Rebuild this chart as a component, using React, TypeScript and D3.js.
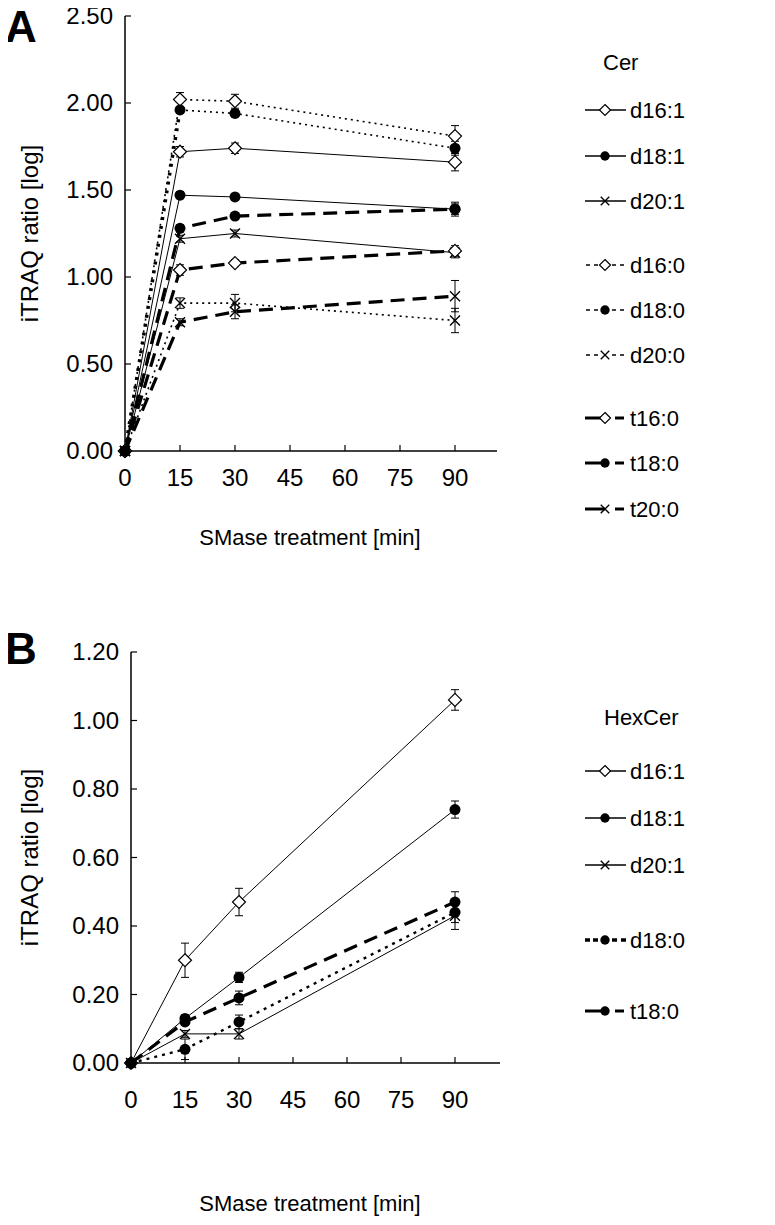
import React from "react";
import * as d3 from "d3";

// ---------- data ----------
const times = [0, 15, 30, 90];
const xTicks = [0, 15, 30, 45, 60, 75, 90];
const cerYTicks = [0, 0.5, 1.0, 1.5, 2.0, 2.5];
const hexYTicks = [0, 0.2, 0.4, 0.6, 0.8, 1.0, 1.2];

const cerNames = ["d16:1", "d18:1", "d20:1", "d16:0", "d18:0", "d20:0", "t16:0", "t18:0", "t20:0"];
const cerValues = [
  [0, 1.72, 1.74, 1.66],
  [0, 1.47, 1.46, 1.39],
  [0, 1.22, 1.25, 1.14],
  [0, 2.02, 2.01, 1.81],
  [0, 1.96, 1.94, 1.74],
  [0, 0.85, 0.85, 0.75],
  [0, 1.04, 1.08, 1.15],
  [0, 1.28, 1.35, 1.39],
  [0, 0.74, 0.80, 0.89],
];
const cerErrors = [
  [0, 0.03, 0.03, 0.05],
  [0, 0.02, 0.02, 0.03],
  [0, 0.02, 0.02, 0.03],
  [0, 0.04, 0.04, 0.06],
  [0, 0.02, 0.02, 0.04],
  [0, 0.03, 0.05, 0.07],
  [0, 0.03, 0.02, 0.03],
  [0, 0.02, 0.02, 0.04],
  [0, 0.02, 0.04, 0.09],
];

const hexNames = ["d16:1", "d18:1", "d20:1", "d18:0", "t18:0"];
const hexValues = [
  [0, 0.30, 0.47, 1.06],
  [0, 0.13, 0.25, 0.74],
  [0, 0.085, 0.085, 0.43],
  [0, 0.04, 0.12, 0.44],
  [0, 0.12, 0.19, 0.47],
];
const hexErrors = [
  [0, 0.05, 0.04, 0.03],
  [0, 0.01, 0.015, 0.025],
  [0, 0.01, 0.015, 0.04],
  [0, 0.03, 0.02, 0.03],
  [0, 0.01, 0.02, 0.03],
];

// ---------- styles ----------
type Kind = "solid" | "dotted" | "dashed" | "bolddot";
type Style = { marker: "diamond" | "circle" | "cross"; kind: Kind; width: number; dash: string; lead?: number };
const solid = (m: Style["marker"]): Style => ({ marker: m, kind: "solid", width: 1, dash: "" });
const dotted = (m: Style["marker"], lead?: number): Style => ({ marker: m, kind: "dotted", width: 1.6, dash: "2,4", lead });
const dashed = (m: Style["marker"]): Style => ({ marker: m, kind: "dashed", width: 3.2, dash: "14,8" });

const cerStyles: Style[] = [
  solid("diamond"), solid("circle"), solid("cross"),
  dotted("diamond"), dotted("circle", 3.5), dotted("cross"),
  dashed("diamond"), dashed("circle"), dashed("cross"),
];
const hexStyles: Style[] = [
  solid("diamond"), solid("circle"), solid("cross"),
  { marker: "circle", kind: "bolddot", width: 2.4, dash: "3,5" },
  dashed("circle"),
];

const FONT = "'Liberation Sans', Arial, sans-serif";

function Marker({ type, x, y, s = 1 }: { type: string; x: number; y: number; s?: number }) {
  if (type === "diamond") {
    const r = 6.5 * s;
    return <path d={`M${x},${y - r}L${x + r},${y}L${x},${y + r}L${x - r},${y}Z`} fill="#fff" stroke="#000" strokeWidth={1.2} />;
  }
  if (type === "circle") {
    return <circle cx={x} cy={y} r={5.5 * s} fill="#000" />;
  }
  const r = 5 * s;
  return (
    <path d={`M${x - r},${y - r}L${x + r},${y + r}M${x - r},${y + r}L${x + r},${y - r}`} stroke="#000" strokeWidth={1.4} fill="none" />
  );
}

function LegendLine({ kind, y }: { kind: Kind; y: number }) {
  const c = 605;
  if (kind === "solid") {
    return <line x1={585} x2={626} y1={y} y2={y} stroke="#000" strokeWidth={1.6} />;
  }
  if (kind === "dotted") {
    return (
      <g stroke="#000" strokeWidth={1.5}>
        <line x1={586} x2={590} y1={y} y2={y} />
        <line x1={594} x2={598} y1={y} y2={y} />
        <line x1={612} x2={616} y1={y} y2={y} />
        <line x1={620} x2={624} y1={y} y2={y} />
      </g>
    );
  }
  if (kind === "bolddot") {
    return (
      <g stroke="#000" strokeWidth={3.5}>
        <line x1={585} x2={590} y1={y} y2={y} />
        <line x1={593} x2={598} y1={y} y2={y} />
        <line x1={612} x2={617} y1={y} y2={y} />
        <line x1={621} x2={626} y1={y} y2={y} />
      </g>
    );
  }
  return (
    <g stroke="#000" strokeWidth={3}>
      <line x1={585} x2={c} y1={y} y2={y} />
      <line x1={615} x2={624} y1={y} y2={y} />
    </g>
  );
}

type PanelProps = {
  letter: string;
  left: number;
  yTop: number;
  yBottom: number;
  xRight: number;
  yMax: number;
  yTicks: number[];
  names: string[];
  values: number[][];
  errors: number[][];
  styles: Style[];
  title: string;
  legendTitleY: number;
  legendYs: number[];
  legendTitleX: number;
  xTickLabelY: number;
  xTitleY: number;
  letterY: number;
};

function Panel(p: PanelProps) {
  const x = d3.scaleLinear().domain([0, 90]).range([p.left, 455]);
  const y = d3.scaleLinear().domain([0, p.yMax]).range([p.yBottom, p.yTop]);
  const line = d3.line<number>().x((_, i) => x(times[i])).y((v) => y(v));
  const tk = 6;
  return (
    <g>
      <text x={5} y={p.letterY} fontFamily={FONT} fontWeight="bold" fontSize={44}>{p.letter}</text>
      {/* axes */}
      <line x1={p.left} x2={p.left} y1={p.yTop} y2={p.yBottom} stroke="#000" strokeWidth={1.5} />
      <line x1={p.left} x2={p.xRight} y1={p.yBottom} y2={p.yBottom} stroke="#000" strokeWidth={1.5} />
      {p.yTicks.map((t) => (
        <g key={"y" + t}>
          <line x1={p.left} x2={p.left + tk} y1={y(t)} y2={y(t)} stroke="#000" strokeWidth={1.2} />
          <text x={p.left - 12} y={y(t)} dy="0.35em" textAnchor="end" fontFamily={FONT} fontSize={24}>{t.toFixed(2)}</text>
        </g>
      ))}
      {xTicks.map((t) => (
        <g key={"x" + t}>
          {t > 0 && <line x1={x(t)} x2={x(t)} y1={p.yBottom} y2={p.yBottom - tk} stroke="#000" strokeWidth={1.2} />}
          <text x={x(t)} y={p.xTickLabelY} dy="0.35em" textAnchor="middle" fontFamily={FONT} fontSize={24}>{t}</text>
        </g>
      ))}
      <text x={310} y={p.xTitleY} dy="0.35em" textAnchor="middle" fontFamily={FONT} fontSize={22}>SMase treatment [min]</text>
      <text transform={`translate(30,${(p.yTop + p.yBottom) / 2}) rotate(-90)`} dy="0.35em" textAnchor="middle" fontFamily={FONT} fontSize={24}>iTRAQ ratio [log]</text>

      {/* lines */}
      {p.values.map((vals, i) => {
        const st = p.styles[i];
        return (
          <g key={"l" + i}>
            {st.lead ? (
              <>
                <path d={line(vals.slice(0, 2)) || ""} fill="none" stroke="#000" strokeWidth={st.lead} strokeDasharray="3,6" />
                <path d={d3.line<number>().x((_, j) => x(times[j + 1])).y((v) => y(v))(vals.slice(1)) || ""} fill="none" stroke="#000" strokeWidth={st.width} strokeDasharray={st.dash} />
              </>
            ) : (
              <path d={line(vals) || ""} fill="none" stroke="#000" strokeWidth={st.width} strokeDasharray={st.dash} />
            )}
          </g>
        );
      })}
      {/* error bars */}
      {p.values.map((vals, i) =>
        vals.map((v, j) => {
          const e = p.errors[i][j];
          if (!e) return null;
          const cx = x(times[j]);
          return (
            <g key={`e${i}-${j}`} stroke="#000" strokeWidth={1}>
              <line x1={cx} x2={cx} y1={y(v - e)} y2={y(v + e)} />
              <line x1={cx - 4} x2={cx + 4} y1={y(v - e)} y2={y(v - e)} />
              <line x1={cx - 4} x2={cx + 4} y1={y(v + e)} y2={y(v + e)} />
            </g>
          );
        })
      )}
      {/* markers */}
      {p.values.map((vals, i) =>
        vals.map((v, j) => <Marker key={`m${i}-${j}`} type={p.styles[i].marker} x={x(times[j])} y={y(v)} />)
      )}
      {/* legend */}
      <text x={p.legendTitleX} y={p.legendTitleY} dy="0.35em" fontFamily={FONT} fontSize={22}>{p.title}</text>
      {p.names.map((n, i) => {
        const st = p.styles[i];
        const ly = p.legendYs[i];
        return (
          <g key={"lg" + i}>
            <LegendLine kind={st.kind} y={ly} />
            <Marker type={st.marker} x={605} y={ly} s={0.85} />
            <text x={630} y={ly} dy="0.35em" fontFamily={FONT} fontSize={22}>{n}</text>
          </g>
        );
      })}
    </g>
  );
}

export default function App() {
  return (
    <svg width={775} height={1225} style={{ display: "block", margin: "-8px" }}>
      <rect width={775} height={1225} fill="#fff" />
      <Panel
        letter="A"
        left={125}
        yTop={16}
        yBottom={451}
        xRight={497}
        yMax={2.5}
        yTicks={cerYTicks}
        names={cerNames}
        values={cerValues}
        errors={cerErrors}
        styles={cerStyles}
        title="Cer"
        legendTitleX={603}
        legendTitleY={62}
        legendYs={[110, 156, 201, 265, 310, 355, 418, 463, 509]}
        xTickLabelY={478}
        xTitleY={537}
        letterY={42}
      />
      <Panel
        letter="B"
        left={131}
        yTop={652}
        yBottom={1063}
        xRight={500}
        yMax={1.2}
        yTicks={hexYTicks}
        names={hexNames}
        values={hexValues}
        errors={hexErrors}
        styles={hexStyles}
        title="HexCer"
        legendTitleX={604}
        legendTitleY={717}
        legendYs={[771, 818, 865, 940, 1011]}
        xTickLabelY={1100}
        xTitleY={1203}
        letterY={664}
      />
    </svg>
  );
}
